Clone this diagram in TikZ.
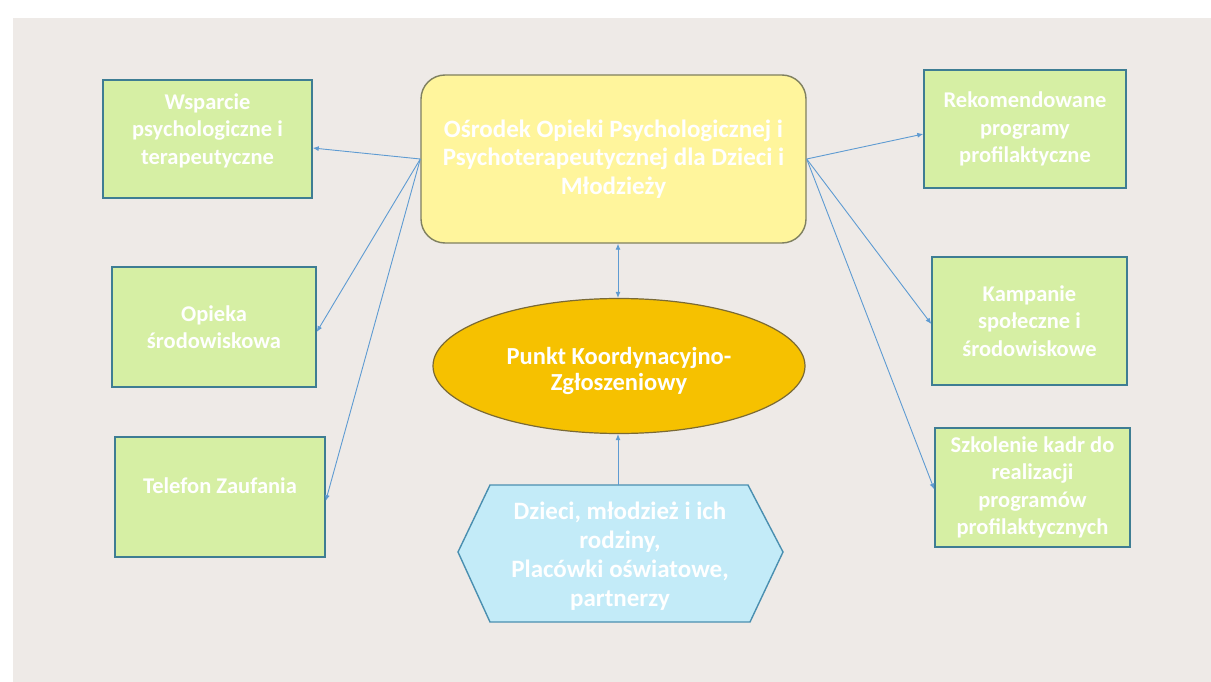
\documentclass[tikz,border=0pt]{standalone}
\usepackage{fontspec}
\setmainfont{Carlito}[BoldFont={Carlito Bold}]
\usetikzlibrary{shapes.geometric,arrows.meta}
\definecolor{bggray}{HTML}{EEEAE7}
\definecolor{gfill}{HTML}{D6EFA4}
\definecolor{gdraw}{HTML}{3E7D93}
\definecolor{yfill}{HTML}{FFF59C}
\definecolor{ydraw}{HTML}{7F8060}
\definecolor{ofill}{HTML}{F6C100}
\definecolor{odraw}{HTML}{7A6A35}
\definecolor{bfill}{HTML}{C3EBF8}
\definecolor{bdraw}{HTML}{4A8FB0}
\definecolor{arrcol}{HTML}{5E9BD2}
\tikzset{
  gbox/.style={draw=gdraw, fill=gfill, line width=1.4pt, align=center, text=white,
    font=\bfseries\fontsize{22.5}{27.5}\selectfont, inner sep=2pt},
  ybox/.style={draw=ydraw, fill=yfill, line width=1.4pt, rounded corners=24pt, align=center, text=white,
    font=\bfseries\fontsize{25}{28.5}\selectfont, minimum width=385pt, minimum height=168pt},
  ell/.style={ellipse, draw=odraw, fill=ofill, line width=1.2pt, align=center, text=white,
    font=\bfseries\fontsize{24.5}{26}\selectfont, minimum width=372pt, minimum height=135pt, inner sep=0pt},
  hextext/.style={align=center, text=white, font=\bfseries\fontsize{25}{29}\selectfont},
  hexshape/.style={draw=bdraw, fill=bfill, line width=1.4pt},
  arr/.style={draw=arrcol, line width=0.9pt, -{Latex[length=6pt,width=5pt]}},
  darr/.style={draw=arrcol, line width=0.9pt, {Latex[length=6pt,width=5pt]}-{Latex[length=6pt,width=5pt]}}
}
\begin{document}
\begin{tikzpicture}[x=1pt,y=-1pt]
\useasboundingbox (0,0) rectangle (1211,682);
\fill[white] (0,0) rectangle (1211,682);
\fill[bggray] (13,18) rectangle (1211,682);

% left boxes
\node[gbox, minimum width=209pt, minimum height=118pt, text depth=20pt] (w) at (207.5,139) {Wsparcie\\psychologiczne i\\terapeutyczne};
\node[gbox, minimum width=204pt, minimum height=120pt] (o) at (214,327) {Opieka\\środowiskowa};
\node[gbox, minimum width=210pt, minimum height=120pt, text depth=22pt] (t) at (220,497) {Telefon Zaufania};

% right boxes
\node[gbox, minimum width=202pt, minimum height=118pt] (r) at (1025,129) {Rekomendowane\\programy\\profilaktyczne};
\node[gbox, minimum width=195pt, minimum height=128pt] (k) at (1029.5,321) {Kampanie\\społeczne i\\środowiskowe};
\node[gbox, minimum width=195pt, minimum height=119pt] (s) at (1032.5,487.5) {Szkolenie kadr do\\realizacji\\programów\\profilaktycznych};

% central
\node[ybox] (yb) at (613.5,159) {Ośrodek Opieki Psychologicznej i\\Psychoterapeutycznej dla Dzieci i\\Młodzieży};
\node[ell] (e) at (619,366) {};
\node[text=white, align=center, font=\bfseries\fontsize{24.5}{26}\selectfont] (et) at (619,371) {Punkt Koordynacyjno-\\Zgłoszeniowy};

% hexagon
\draw[hexshape] (490,485) -- (748,485) -- (783,552) -- (750,622) -- (490,622) -- (458,552) -- cycle;
\coordinate (hextop) at (618,485);
\node[hextext] (hx) at (620,556) {Dzieci, młodzież i ich\\rodziny,\\Placówki oświatowe,\\partnerzy};

% connectors
\draw[arr] (yb.west) -- ([yshift=-9pt]w.east);
\draw[arr] (yb.west) -- ([yshift=-5pt]o.east);
\draw[arr] (yb.west) -- ([yshift=-4pt]t.east);
\draw[arr] (yb.east) -- ([yshift=-5pt]r.east -| r.west);
\draw[arr] (yb.east) -- ([yshift=-3pt]k.west);
\draw[arr] (yb.east) -- ([yshift=-2pt]s.west);
\draw[darr] (yb.south -| hextop) -- (e.north -| hextop);
\draw[arr] (hextop) -- (e.south -| hextop);
\end{tikzpicture}
\end{document}
